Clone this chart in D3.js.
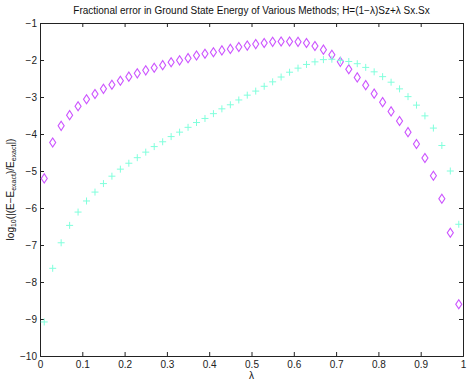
<!DOCTYPE html>
<html>
<head>
<meta charset="utf-8">
<script src="https://cdn.jsdelivr.net/npm/d3@7"></script>
<style>
  body { margin: 0; background: #fff; }
  svg text { font-family: "Liberation Sans", Arial, sans-serif; }
</style>
</head>
<body>
<div id="chart"></div>
<script>
// lambda values, 0.01 .. 0.99 step 0.02
var lambdas = [0.01,0.03,0.05,0.07,0.09,0.11,0.13,0.15,0.17,0.19,
               0.21,0.23,0.25,0.27,0.29,0.31,0.33,0.35,0.37,0.39,
               0.41,0.43,0.45,0.47,0.49,0.51,0.53,0.55,0.57,0.59,
               0.61,0.63,0.65,0.67,0.69,0.71,0.73,0.75,0.77,0.79,
               0.81,0.83,0.85,0.87,0.89,0.91,0.93,0.95,0.97,0.99];

// magenta diamonds
var diamondErr = [-5.20,-4.23,-3.78,-3.49,-3.25,-3.06,-2.92,-2.78,-2.67,-2.56,
                  -2.45,-2.36,-2.28,-2.21,-2.14,-2.06,-2.01,-1.95,-1.88,-1.83,
                  -1.79,-1.74,-1.70,-1.65,-1.61,-1.57,-1.54,-1.51,-1.50,-1.50,
                  -1.51,-1.54,-1.62,-1.72,-1.86,-2.05,-2.25,-2.47,-2.68,-2.91,
                  -3.14,-3.39,-3.65,-3.95,-4.27,-4.65,-5.13,-5.75,-6.67,-8.60];

// cyan plusses
var plusErr = [-9.08,-7.63,-6.94,-6.47,-6.11,-5.81,-5.57,-5.34,-5.14,-4.95,
               -4.79,-4.64,-4.49,-4.34,-4.21,-4.07,-3.95,-3.82,-3.69,-3.58,
               -3.45,-3.32,-3.21,-3.08,-2.95,-2.84,-2.71,-2.59,-2.46,-2.33,
               -2.22,-2.12,-2.05,-1.99,-1.98,-2.01,-2.04,-2.10,-2.20,-2.32,
               -2.45,-2.60,-2.78,-2.99,-3.22,-3.51,-3.84,-4.31,-5.00,-6.44];

var xTicks = [0,0.1,0.2,0.3,0.4,0.5,0.6,0.7,0.8,0.9,1];
var yTicks = [-10,-9,-8,-7,-6,-5,-4,-3,-2,-1];

var W = 471, H = 384;
var margin = {top: 23, right: 8, bottom: 28, left: 40},
    width = W - margin.left - margin.right,
    height = H - margin.top - margin.bottom;

var svg = d3.select("#chart").append("svg")
    .attr("width", W)
    .attr("height", H);

var g = svg.append("g")
    .attr("transform", "translate(" + margin.left + "," + margin.top + ")");

var x = d3.scaleLinear().domain([0, 1]).range([0, width]);
var y = d3.scaleLinear().domain([-10, -1]).range([height, 0]);

// axes, ticks pointing inward (matlab style)
var axB = g.append("g").attr("transform", "translate(0," + height + ")")
  .call(d3.axisBottom(x).tickValues(xTicks).tickSize(-4).tickPadding(5)
        .tickFormat(function(d) { return String(d); }));
var axT = g.append("g")
  .call(d3.axisTop(x).tickValues(xTicks).tickSize(-4).tickFormat(""));
var axL = g.append("g")
  .call(d3.axisLeft(y).tickValues(yTicks).tickSize(-4).tickPadding(3)
        .tickFormat(function(d) { return "\u2212" + Math.abs(d); }));
var axR = g.append("g").attr("transform", "translate(" + width + ",0)")
  .call(d3.axisRight(y).tickValues(yTicks).tickSize(-4).tickFormat(""));

[axB, axT, axL, axR].forEach(function(a) {
  a.selectAll("path").attr("stroke", "#222").attr("stroke-width", 1);
  a.selectAll("line").attr("stroke", "#222");
  a.selectAll("text").attr("fill", "#222").style("font-size", "10px");
});
axB.selectAll("text").attr("dy", "0.71em");

// markers
var diamond = d3.symbol().type(d3.symbolDiamond).size(24);
g.selectAll(".dia")
  .data(lambdas)
  .enter().append("path")
  .attr("class", "dia")
  .attr("d", diamond())
  .attr("transform", function(d, i) {
    return "translate(" + x(d) + "," + y(diamondErr[i]) + ") scale(1.15,1)";
  })
  .attr("fill", "none")
  .attr("stroke", "#cc55ff")
  .attr("stroke-width", 1);

g.selectAll(".pl")
  .data(lambdas)
  .enter().append("g")
  .attr("class", "pl")
  .attr("transform", function(d, i) {
    return "translate(" + x(d) + "," + y(plusErr[i]) + ")";
  })
  .each(function() {
    var s = d3.select(this);
    s.append("line").attr("x1", -3.5).attr("x2", 3.5).attr("y1", 0).attr("y2", 0);
    s.append("line").attr("x1", 0).attr("x2", 0).attr("y1", -3.5).attr("y2", 3.5);
  })
  .selectAll("line")
  .attr("stroke", "#80ffdc")
  .attr("stroke-width", 1);

// title
svg.append("text")
  .attr("x", margin.left + width / 2)
  .attr("y", 14)
  .attr("text-anchor", "middle")
  .style("font-size", "10px")
  .attr("fill", "#111")
  .text("Fractional error in Ground State Energy of Various Methods; H=(1\u2212\u03bb)Sz+\u03bb Sx.Sx");

// x label
svg.append("text")
  .attr("x", margin.left + width / 2)
  .attr("y", 379)
  .attr("text-anchor", "middle")
  .style("font-size", "10px")
  .attr("fill", "#111")
  .text("\u03bb");

// y label with subscripts
var yl = svg.append("text")
  .attr("transform", "translate(14," + (margin.top + height / 2) + ") rotate(-90)")
  .attr("text-anchor", "middle")
  .style("font-size", "10px")
  .attr("fill", "#111");
yl.append("tspan").text("log");
yl.append("tspan").attr("baseline-shift", "-30%").style("font-size", "7px").text("10");
yl.append("tspan").text("(|(E\u2212E");
yl.append("tspan").attr("baseline-shift", "-30%").style("font-size", "7px").text("exact");
yl.append("tspan").text(")/E");
yl.append("tspan").attr("baseline-shift", "-30%").style("font-size", "7px").text("exact");
yl.append("tspan").text("|)");
</script>
</body>
</html>
